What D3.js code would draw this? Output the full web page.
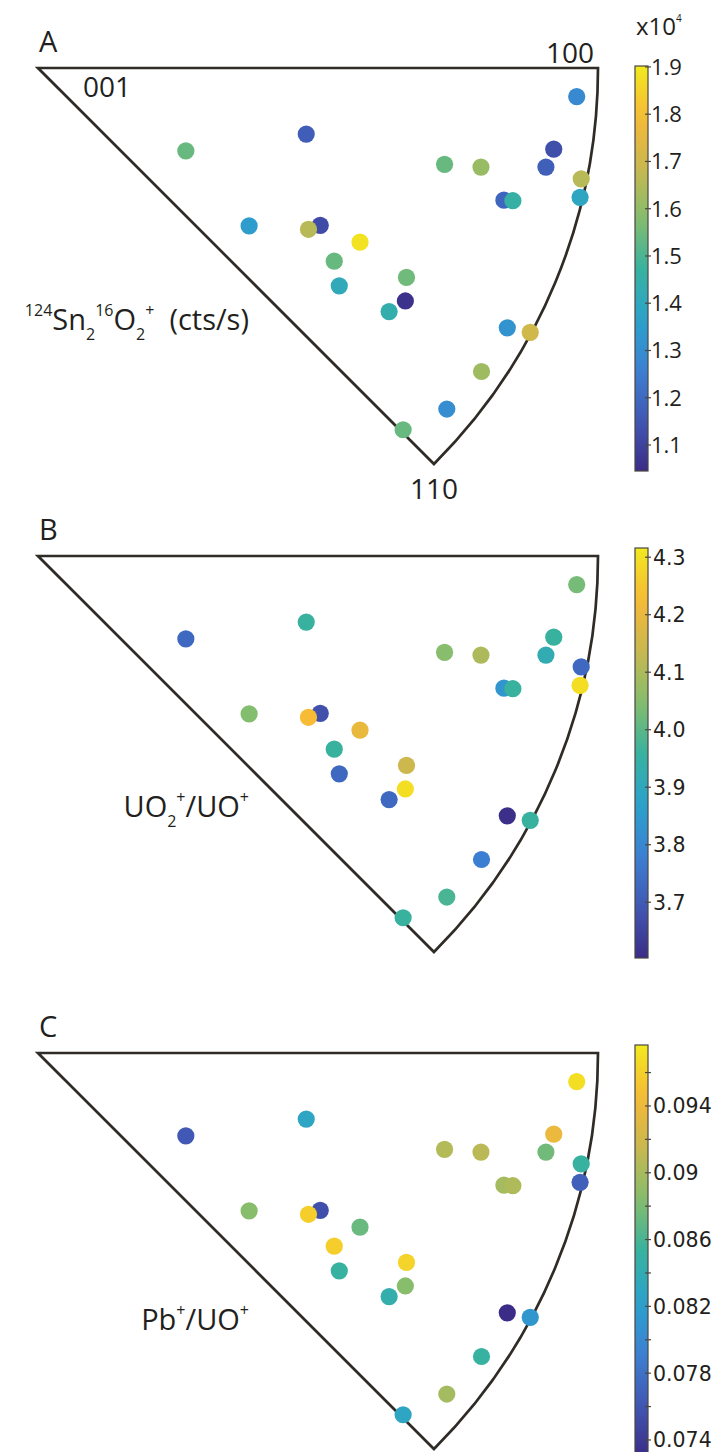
<!DOCTYPE html>
<html>
<head>
<meta charset="utf-8">
<script src="https://cdn.jsdelivr.net/npm/d3@7"></script>
<style>
  html, body { margin: 0; padding: 0; background: #fff; }
  svg { display: block; }
  text { fill: #231f20; }
</style>
</head>
<body>
<svg id="chart" width="720" height="1452"></svg>
<script>
// grain poles in stereographic units: u along [100], v along [010]; r = 1 is the arc
const poleU = [0.962, 0.479, 0.264, 0.921, 0.726, 0.791, 0.907, 0.970, 0.832, 0.848, 0.968, 0.377, 0.504,
               0.483, 0.575, 0.529, 0.658, 0.538, 0.656, 0.627, 0.838, 0.879, 0.792, 0.730, 0.652];
const poleV = [0.051, 0.118, 0.148, 0.145, 0.172, 0.177, 0.177, 0.198, 0.236, 0.237, 0.231, 0.282, 0.281,
               0.288, 0.311, 0.345, 0.374, 0.389, 0.416, 0.435, 0.464, 0.472, 0.542, 0.609, 0.646];

// 124Sn2 16O2+ count rate, x10^4 cts/s
const snValues = [1.29, 1.165, 1.54, 1.13, 1.54, 1.61, 1.17, 1.66, 1.19, 1.46, 1.39, 1.35, 1.12,
                  1.66, 1.885, 1.54, 1.55, 1.415, 1.06, 1.44, 1.32, 1.705, 1.62, 1.30, 1.54];
// UO2+/UO+
const uoValues = [4.03, 3.96, 3.73, 3.96, 4.05, 4.10, 3.92, 3.73, 3.84, 3.96, 4.295, 4.045, 3.675,
                  4.23, 4.20, 3.96, 4.145, 3.73, 4.295, 3.73, 3.61, 3.96, 3.78, 3.98, 3.96];
// Pb+/UO+
const pbValues = [0.0969, 0.0829, 0.0762, 0.0937, 0.0905, 0.0908, 0.0876, 0.0853, 0.0898, 0.0903, 0.0767, 0.0885, 0.0755,
                  0.0959, 0.0873, 0.0959, 0.0962, 0.0853, 0.0885, 0.0844, 0.0731, 0.0812, 0.0853, 0.0898, 0.0829];

const snTicks = [1.1, 1.2, 1.3, 1.4, 1.5, 1.6, 1.7, 1.8, 1.9];
const uoTicks = [3.7, 3.8, 3.9, 4.0, 4.1, 4.2, 4.3];
const pbTicks = [0.074, 0.078, 0.082, 0.086, 0.09, 0.094];
const pbMinorTicks = [0.076, 0.08, 0.084, 0.088, 0.092, 0.096];

const snLimits = [1.045, 1.902];
const uoLimits = [3.603, 4.316];
const pbLimits = [0.07304, 0.09765];

// parula-like colour stops
const parula = ['#3b2c86', '#4158b4', '#3c80d2', '#2ba2cc', '#38b29f', '#86bd6c', '#c9b84f', '#f7b937', '#f2ea1e'];

const grains = poleU.map((u, i) => ({u: u, v: poleV[i], i: i}));

const svg = d3.select('#chart');
const sansFont = '"Open Sans", "Noto Sans", sans-serif';
const cbFont = '"DejaVu Sans", Verdana, sans-serif';

const R = 560;
const x = d3.scaleLinear().domain([0, 1]).range([38, 38 + R]);

const panels = [
  {letter: 'A', top: 68, values: snValues, limits: snLimits, ticks: snTicks, minor: [],
   fmt: d3.format('.1f'), barTop: 66, barBottom: 471, tickFont: sansFont, labelY: 330,
   label: [['124', 'sup'], ['Sn'], ['2', 'sub'], ['16', 'sup'], ['O'], ['2', 'sub'], ['+', 'sup'], ['\u00a0\u00a0(cts/s)']]},
  {letter: 'B', top: 556, values: uoValues, limits: uoLimits, ticks: uoTicks, minor: [],
   fmt: d3.format('.1f'), barTop: 548, barBottom: 958, tickFont: cbFont, labelY: 817,
   label: [['UO'], ['2', 'sub'], ['+', 'sup'], ['/UO'], ['+', 'sup']]},
  {letter: 'C', top: 1053, values: pbValues, limits: pbLimits, ticks: pbTicks, minor: pbMinorTicks,
   fmt: d => String(+d.toFixed(3)), barTop: 1045, barBottom: 1456, tickFont: cbFont, labelY: 1330,
   label: [['Pb'], ['+', 'sup'], ['/UO'], ['+', 'sup']]}
];

const defs = svg.append('defs');

panels.forEach((p, pi) => {
  const y = d3.scaleLinear().domain([0, 1]).range([p.top, p.top + R]);
  const [lo, hi] = p.limits;
  const color = d3.scaleLinear()
    .domain(parula.map((c, k) => lo + k * (hi - lo) / (parula.length - 1)))
    .range(parula)
    .clamp(true);

  const g = svg.append('g');

  // 45 degree sector of the stereographic projection
  const path = d3.path();
  path.moveTo(x(0), y(0));
  path.lineTo(x(1), y(0));
  path.arc(x(0), y(0), x(1) - x(0), 0, Math.PI / 4, false);
  path.closePath();
  g.append('path')
    .attr('d', path.toString())
    .attr('fill', 'none')
    .attr('stroke', '#2f2b26')
    .attr('stroke-width', 2.7)
    .attr('stroke-linejoin', 'miter');

  g.selectAll('circle')
    .data(grains)
    .join('circle')
    .attr('cx', d => x(d.u))
    .attr('cy', d => y(d.v))
    .attr('r', 8.6)
    .attr('fill', d => color(p.values[d.i]));

  g.append('text')
    .attr('x', 39).attr('y', p.top - 16)
    .style('font-family', sansFont).style('font-size', '29px')
    .text(p.letter);

  if (pi === 0) {
    g.append('text').attr('x', 83).attr('y', p.top + 29)
      .style('font-family', sansFont).style('font-size', '28px').text('001');
    g.append('text').attr('x', x(1) - 4).attr('y', p.top - 5).attr('text-anchor', 'end')
      .style('font-family', sansFont).style('font-size', '28px').text('100');
    g.append('text').attr('x', x(Math.SQRT1_2)).attr('y', y(Math.SQRT1_2) + 35).attr('text-anchor', 'middle')
      .style('font-family', sansFont).style('font-size', '28px').text('110');
  }

  // quantity label with sub/superscripts
  const lab = g.append('text')
    .attr('x', 249).attr('y', p.labelY)
    .attr('text-anchor', 'end')
    .style('font-family', sansFont).style('font-size', '29px');
  let shift = 0;
  p.label.forEach(([t, kind]) => {
    const target = kind === 'sup' ? -14 : kind === 'sub' ? 10 : 0;
    lab.append('tspan')
      .attr('dy', target - shift)
      .style('font-size', kind ? '16px' : '29px')
      .text(t);
    shift = target;
  });

  // colour bar
  const cy = d3.scaleLinear().domain(p.limits).range([p.barBottom, p.barTop]);
  const gid = 'grad' + pi;
  const grad = defs.append('linearGradient')
    .attr('id', gid).attr('x1', 0).attr('x2', 0).attr('y1', 1).attr('y2', 0);
  grad.selectAll('stop')
    .data(d3.range(0, 1.0001, 0.05))
    .join('stop')
    .attr('offset', d => d)
    .attr('stop-color', d => color(lo + d * (hi - lo)));

  const barX = 635, barW = 13;
  g.append('rect')
    .attr('x', barX).attr('y', p.barTop)
    .attr('width', barW).attr('height', p.barBottom - p.barTop)
    .attr('fill', `url(#${gid})`)
    .attr('stroke', '#4a4640').attr('stroke-width', 1.2);

  g.selectAll('line.tick')
    .data(p.ticks.concat(p.minor).filter(t => t >= lo && t <= hi))
    .join('line')
    .attr('class', 'tick')
    .attr('x1', barX + barW - 3).attr('x2', barX + barW + 3)
    .attr('y1', d => cy(d)).attr('y2', d => cy(d))
    .attr('stroke', '#4a4640').attr('stroke-width', 1.2);

  g.selectAll('text.tl')
    .data(p.ticks)
    .join('text')
    .attr('class', 'tl')
    .attr('x', pi === 0 ? 651 : 653)
    .attr('y', d => cy(d))
    .attr('dy', '0.36em')
    .style('font-family', p.tickFont)
    .style('font-size', pi === 0 ? '22px' : '20.5px')
    .text(p.fmt);

  if (pi === 0) {
    const ex = g.append('text').attr('x', 636).attr('y', 35)
      .style('font-family', sansFont).style('font-size', '24px');
    ex.append('tspan').text('x10');
    ex.append('tspan').attr('dy', -13).style('font-size', '10px').text('4');
  }
});
</script>
</body>
</html>
